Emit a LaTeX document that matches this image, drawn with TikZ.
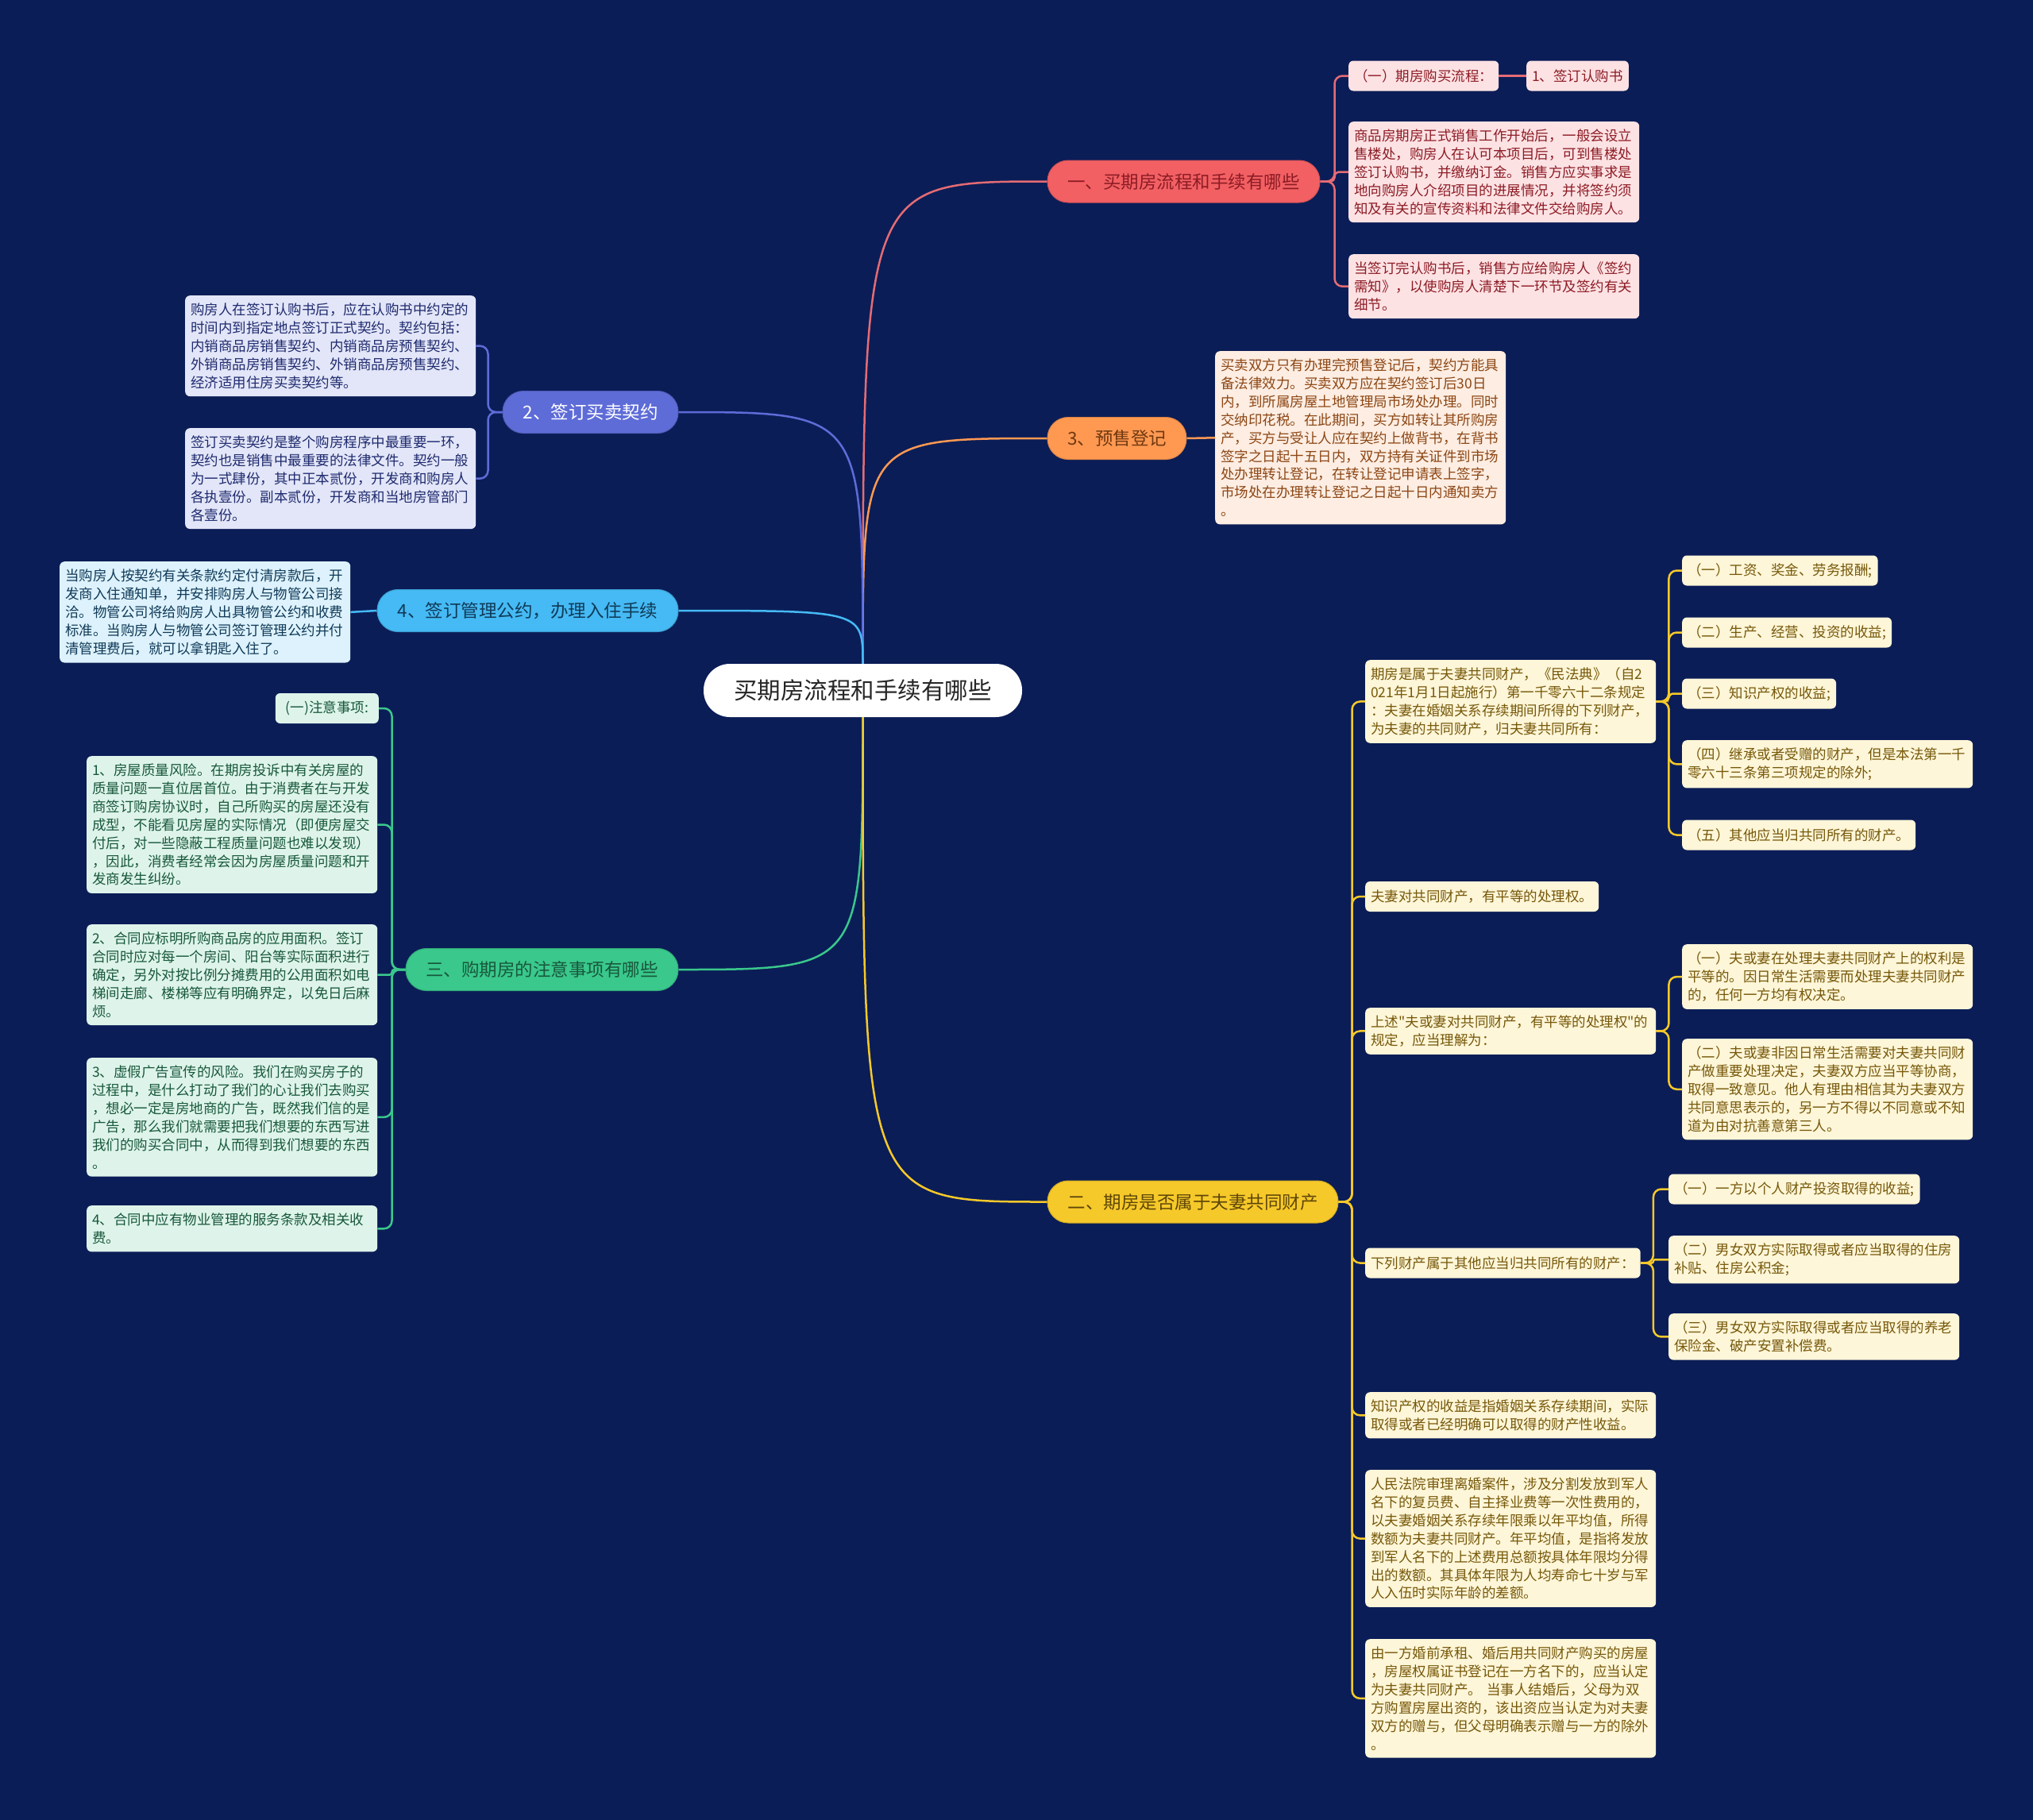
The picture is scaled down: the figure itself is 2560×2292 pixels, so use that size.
\documentclass[tikz,border=0pt]{standalone}
\usepackage{fontspec}
\setmainfont{Noto Sans CJK SC}[Ligatures=TeXOff]
\definecolor{bg}{RGB}{11,29,87}
\definecolor{redB}{RGB}{242,96,100}
\definecolor{redL}{RGB}{228,108,116}
\definecolor{redF}{RGB}{253,226,228}
\definecolor{redT}{RGB}{140,28,36}
\definecolor{orgB}{RGB}{255,153,82}
\definecolor{orgF}{RGB}{253,237,226}
\definecolor{orgT}{RGB}{140,70,20}
\definecolor{bluB}{RGB}{94,108,216}
\definecolor{bluF}{RGB}{227,230,248}
\definecolor{bluT}{RGB}{30,42,110}
\definecolor{cyaB}{RGB}{69,186,244}
\definecolor{cyaF}{RGB}{221,242,252}
\definecolor{cyaT}{RGB}{16,58,88}
\definecolor{grnB}{RGB}{58,200,140}
\definecolor{grnF}{RGB}{222,244,234}
\definecolor{grnT}{RGB}{24,88,60}
\definecolor{yelB}{RGB}{246,201,42}
\definecolor{yelF}{RGB}{254,246,216}
\definecolor{yelT}{RGB}{118,88,10}
\begin{document}
\begin{tikzpicture}[x=1pt,y=-1pt,
  every node/.style={font=\fontsize{17.5}{22.9}\selectfont},
  box/.style={anchor=north west, align=left, text width=352pt, inner xsep=7pt, inner ysep=9.5pt, rounded corners=6pt},
  one/.style={anchor=west, align=left, inner xsep=7pt, inner ysep=4pt, minimum height=38pt, rounded corners=6pt},
  branch/.style={rounded corners=26pt, minimum height=53pt, font=\fontsize{22.5}{26}\selectfont, inner xsep=4pt, draw, line width=1pt},
  boxR/.style={fill=redF, text=redT},
  boxO/.style={fill=orgF, text=orgT},
  boxB/.style={fill=bluF, text=bluT},
  boxC/.style={fill=cyaF, text=cyaT},
  boxG/.style={fill=grnF, text=grnT},
  boxY/.style={fill=yelF, text=yelT},
  link/.style={line width=2.5pt},
]
\fill[bg] (0,0) rectangle (2560,2292);

% centre
\node[fill=white, rounded corners=33pt, minimum width=401pt, minimum height=67pt,
      font=\fontsize{29.5}{34}\selectfont, text=black!85] (c) at (1086.5,869.5) {买期房流程和手续有哪些};

% main branches
\node[branch, fill=redB, draw=redB!85!black, text=redT, minimum width=343pt] (b1) at (1490.5,228.5) {一、买期房流程和手续有哪些};
\node[branch, fill=orgB, draw=orgB!85!black, text=orgT!80!black, minimum width=175pt] (b3) at (1406.5,552) {3、预售登记};
\node[branch, fill=bluB, draw=bluB!85!black, text=white, minimum width=221pt] (b2) at (743.5,519) {2、签订买卖契约};
\node[branch, fill=cyaB, draw=cyaB!85!black, text=cyaT, minimum width=379pt] (b4) at (664.5,769) {4、签订管理公约，办理入住手续};
\node[branch, fill=grnB, draw=grnB!85!black, text=grnT, minimum width=343pt] (b5) at (682.5,1221) {三、购期房的注意事项有哪些};
\node[branch, fill=yelB, draw=yelB!85!black, text=yelT!80!black, minimum width=366pt] (b6) at (1502,1513.5) {二、期房是否属于夫妻共同财产};

% branch 1 children
\node[one, boxR] (n1a) at (1698,95.5) {（一）期房购买流程：};
\node[one, boxR] (n1b) at (1922,95.5) {1、签订认购书};
\node[box, boxR] (n1c) at (1698,153) {商品房期房正式销售工作开始后，一般会设立\\售楼处，购房人在认可本项目后，可到售楼处\\签订认购书，并缴纳订金。销售方应实事求是\\地向购房人介绍项目的进展情况，并将签约须\\知及有关的宣传资料和法律文件交给购房人。};
\node[box, boxR] (n1d) at (1698,320) {当签订完认购书后，销售方应给购房人《签约\\需知》，以使购房人清楚下一环节及签约有关\\细节。};

% branch 3 child
\node[box, boxO] (n3) at (1530,442) {买卖双方只有办理完预售登记后，契约方能具\\备法律效力。买卖双方应在契约签订后30日\\内，到所属房屋土地管理局市场处办理。同时\\交纳印花税。在此期间，买方如转让其所购房\\产，买方与受让人应在契约上做背书，在背书\\签字之日起十五日内，双方持有关证件到市场\\处办理转让登记，在转让登记申请表上签字，\\市场处在办理转让登记之日起十日内通知卖方\\。};

% branch 2 children
\node[box, boxB] (n2a) at (233,372) {购房人在签订认购书后，应在认购书中约定的\\时间内到指定地点签订正式契约。契约包括：\\内销商品房销售契约、内销商品房预售契约、\\外销商品房销售契约、外销商品房预售契约、\\经济适用住房买卖契约等。};
\node[box, boxB] (n2b) at (233,539) {签订买卖契约是整个购房程序中最重要一环，\\契约也是销售中最重要的法律文件。契约一般\\为一式肆份，其中正本贰份，开发商和购房人\\各执壹份。副本贰份，开发商和当地房管部门\\各壹份。};

% branch 4 child
\node[box, boxC] (n4) at (75,707) {当购房人按契约有关条款约定付清房款后，开\\发商入住通知单，并安排购房人与物管公司接\\洽。物管公司将给购房人出具物管公约和收费\\标准。当购房人与物管公司签订管理公约并付\\清管理费后，就可以拿钥匙入住了。};

% branch 三 children
\node[one, boxG, anchor=east, minimum width=130pt, align=right] (n5a) at (477,892) {(一)注意事项:};
\node[box, boxG] (n5b) at (109,952) {1、房屋质量风险。在期房投诉中有关房屋的\\质量问题一直位居首位。由于消费者在与开发\\商签订购房协议时，自己所购买的房屋还没有\\成型，不能看见房屋的实际情况（即便房屋交\\付后，对一些隐蔽工程质量问题也难以发现）\\，因此，消费者经常会因为房屋质量问题和开\\发商发生纠纷。};
\node[box, boxG] (n5c) at (109,1164) {2、合同应标明所购商品房的应用面积。签订\\合同时应对每一个房间、阳台等实际面积进行\\确定，另外对按比例分摊费用的公用面积如电\\梯间走廊、楼梯等应有明确界定，以免日后麻\\烦。};
\node[box, boxG] (n5d) at (109,1332) {3、虚假广告宣传的风险。我们在购买房子的\\过程中，是什么打动了我们的心让我们去购买\\，想必一定是房地商的广告，既然我们信的是\\广告，那么我们就需要把我们想要的东西写进\\我们的购买合同中，从而得到我们想要的东西\\。};
\node[box, boxG] (n5e) at (109,1518) {4、合同中应有物业管理的服务条款及相关收\\费。};

% branch 二 children
\node[box, boxY] (yA) at (1719,831) {期房是属于夫妻共同财产，《民法典》（自2\\021年1月1日起施行）第一千零六十二条规定\\：夫妻在婚姻关系存续期间所得的下列财产，\\为夫妻的共同财产，归夫妻共同所有：};
\node[one, boxY] (yA1) at (2118,718.5) {（一）工资、奖金、劳务报酬;};
\node[one, boxY] (yA2) at (2118,796.5) {（二）生产、经营、投资的收益;};
\node[one, boxY] (yA3) at (2118,873.5) {（三）知识产权的收益;};
\node[box, boxY] (yA4) at (2118,932) {（四）继承或者受赠的财产，但是本法第一千\\零六十三条第三项规定的除外;};
\node[one, boxY] (yA5) at (2118,1051.5) {（五）其他应当归共同所有的财产。};
\node[one, boxY] (yB) at (1719,1129) {夫妻对共同财产，有平等的处理权。};
\node[box, boxY] (yC) at (1719,1269) {上述"夫或妻对共同财产，有平等的处理权"的\\规定，应当理解为：};
\node[box, boxY] (yC1) at (2118,1189) {（一）夫或妻在处理夫妻共同财产上的权利是\\平等的。因日常生活需要而处理夫妻共同财产\\的，任何一方均有权决定。};
\node[box, boxY] (yC2) at (2118,1308) {（二）夫或妻非因日常生活需要对夫妻共同财\\产做重要处理决定，夫妻双方应当平等协商，\\取得一致意见。他人有理由相信其为夫妻双方\\共同意思表示的，另一方不得以不同意或不知\\道为由对抗善意第三人。};
\node[one, boxY] (yD) at (1719,1590.5) {下列财产属于其他应当归共同所有的财产：};
\node[one, boxY] (yD1) at (2101,1497.5) {（一）一方以个人财产投资取得的收益;};
\node[box, boxY] (yD2) at (2101,1556) {（二）男女双方实际取得或者应当取得的住房\\补贴、住房公积金;};
\node[box, boxY] (yD3) at (2101,1654) {（三）男女双方实际取得或者应当取得的养老\\保险金、破产安置补偿费。};
\node[box, boxY] (yE) at (1719,1753) {知识产权的收益是指婚姻关系存续期间，实际\\取得或者已经明确可以取得的财产性收益。};
\node[box, boxY] (yF) at (1719,1851) {人民法院审理离婚案件，涉及分割发放到军人\\名下的复员费、自主择业费等一次性费用的，\\以夫妻婚姻关系存续年限乘以年平均值，所得\\数额为夫妻共同财产。年平均值，是指将发放\\到军人名下的上述费用总额按具体年限均分得\\出的数额。其具体年限为人均寿命七十岁与军\\人入伍时实际年龄的差额。};
\node[box, boxY] (yG) at (1719,2064) {由一方婚前承租、婚后用共同财产购买的房屋\\，房屋权属证书登记在一方名下的，应当认定\\为夫妻共同财产。 当事人结婚后，父母为双\\方购置房屋出资的，该出资应当认定为对夫妻\\双方的赠与，但父母明确表示赠与一方的除外\\。};

% centre -> branches
\draw[link, redL] (c.north) .. controls (c.north |- b1.west) .. (b1.west);
\draw[link, orgB] (c.north) .. controls (c.north |- b3.west) .. (b3.west);
\draw[link, bluB] (c.north) .. controls (c.north |- b2.east) .. (b2.east);
\draw[link, cyaB] (c.north) .. controls (c.north |- b4.east) .. (b4.east);
\draw[link, grnB] (c.south) .. controls (c.south |- b5.east) .. (b5.east);
\draw[link, yelB] (c.south) .. controls (c.south |- b6.west) .. (b6.west);

% branch 1 links
\draw[link, redL, rounded corners=10pt] (b1.east) -- ++(18,0) |- (n1a.west);
\draw[link, redL, rounded corners=5pt] (b1.east) -- ++(18,0) |- (n1c.west);
\draw[link, redL, rounded corners=10pt] (b1.east) -- ++(18,0) |- (n1d.west);
\draw[link, redL] (n1a.east) -- (n1b.west);

% branch 3 link
\draw[link, orgB] (b3.east) -- (n3.west);

% branch 2 links
\draw[link, bluB, rounded corners=10pt] (b2.west) -- ++(-18,0) |- (n2a.east);
\draw[link, bluB, rounded corners=10pt] (b2.west) -- ++(-18,0) |- (n2b.east);

% branch 4 link
\draw[link, cyaB] (b4.west) -- (n4.east);

% branch 三 links
\draw[link, grnB, rounded corners=10pt] (b5.west) -- ++(-17,0) |- (n5a.east);
\draw[link, grnB, rounded corners=10pt] (b5.west) -- ++(-17,0) |- (n5b.east);
\draw[link, grnB, rounded corners=3pt] (b5.west) -- ++(-17,0) |- (n5c.east);
\draw[link, grnB, rounded corners=10pt] (b5.west) -- ++(-17,0) |- (n5d.east);
\draw[link, grnB, rounded corners=10pt] (b5.west) -- ++(-17,0) |- (n5e.east);

% branch 二 links
\foreach \t in {yA,yB,yC,yD,yE,yF,yG}
  \draw[link, yelB, rounded corners=10pt] (b6.east) -- ++(17,0) |- (\t.west);
\draw[link, yelB, rounded corners=10pt] (yA.east) -- ++(16,0) |- (yA1.west);
\draw[link, yelB, rounded corners=10pt] (yA.east) -- ++(16,0) |- (yA2.west);
\draw[link, yelB, rounded corners=5pt] (yA.east) -- ++(16,0) |- (yA3.west);
\draw[link, yelB, rounded corners=10pt] (yA.east) -- ++(16,0) |- (yA4.west);
\draw[link, yelB, rounded corners=10pt] (yA.east) -- ++(16,0) |- (yA5.west);
\draw[link, yelB, rounded corners=10pt] (yC.east) -- ++(16,0) |- (yC1.west);
\draw[link, yelB, rounded corners=10pt] (yC.east) -- ++(16,0) |- (yC2.west);
\draw[link, yelB, rounded corners=10pt] (yD.east) -- ++(16,0) |- (yD1.west);
\draw[link, yelB, rounded corners=2pt] (yD.east) -- ++(16,0) |- (yD2.west);
\draw[link, yelB, rounded corners=10pt] (yD.east) -- ++(16,0) |- (yD3.west);
\end{tikzpicture}
\end{document}
